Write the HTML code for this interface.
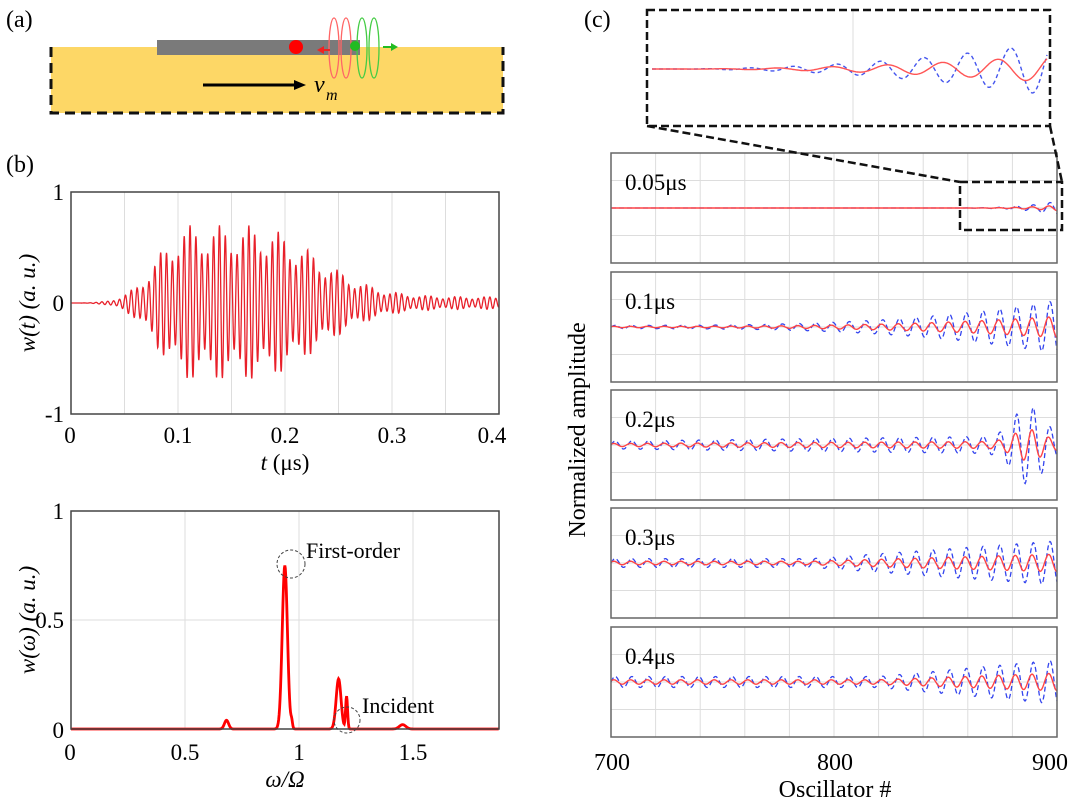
<!DOCTYPE html>
<html><head><meta charset="utf-8"><style>
html,body{margin:0;padding:0;background:#fff;}
svg{display:block;font-family:"Liberation Serif",serif;}
</style></head><body>
<svg id="s" width="1080" height="801" viewBox="0 0 1080 801" xmlns="http://www.w3.org/2000/svg">
<!-- (a) -->
<text x="6" y="27" font-size="24">(a)</text>
<rect x="51" y="47" width="452" height="66" fill="#fdd766"/>
<path d="M51 47 V113 H503 V47" fill="none" stroke="#111" stroke-width="3" stroke-dasharray="10,6"/>
<rect x="157" y="40" width="203" height="15" fill="#7a7a7a"/>
<circle cx="296" cy="47" r="7" fill="#f00"/>
<g fill="none" stroke-width="1.3">
<ellipse cx="334" cy="48" rx="5" ry="30" stroke="#f66"/><ellipse cx="346" cy="48" rx="5" ry="30" stroke="#f66"/>
<ellipse cx="362" cy="48" rx="5" ry="30" stroke="#4c4"/><ellipse cx="374" cy="48" rx="5" ry="30" stroke="#4c4"/>
</g>
<circle cx="355" cy="46" r="5" fill="#2b2"/>
<line x1="330" y1="50" x2="323" y2="50" stroke="#e22" stroke-width="2"/><path d="M317 50 L324 46 L324 54Z" fill="#e22"/>
<line x1="383" y1="47" x2="392" y2="47" stroke="#2b2" stroke-width="2"/><path d="M398 47 L391 43 L391 51Z" fill="#2b2"/>
<line x1="203" y1="85" x2="296" y2="85" stroke="#000" stroke-width="3"/><path d="M306 85 L294 80 L294 90Z" fill="#000"/>
<text x="314" y="92" font-size="24" font-style="italic">v</text><text x="326" y="100" font-size="16" font-style="italic">m</text>

<!-- (b) -->
<text x="6" y="172" font-size="24">(b)</text>
<g stroke="#ddd" stroke-width="1">
<line x1="124.5" y1="192" x2="124.5" y2="414"/><line x1="178" y1="192" x2="178" y2="414"/><line x1="231.5" y1="192" x2="231.5" y2="414"/><line x1="285" y1="192" x2="285" y2="414"/><line x1="338.5" y1="192" x2="338.5" y2="414"/><line x1="392" y1="192" x2="392" y2="414"/><line x1="445.5" y1="192" x2="445.5" y2="414"/>
</g>
<path id="wt" fill="none" stroke="#e8202a" stroke-width="1.3"/>
<rect x="71" y="192" width="428" height="222" fill="none" stroke="#444" stroke-width="1.5"/>
<g font-size="23" text-anchor="end"><text x="64" y="200">1</text><text x="64" y="311">0</text><text x="64" y="422">-1</text></g>
<g font-size="23" text-anchor="middle"><text x="70" y="443">0</text><text x="178" y="443">0.1</text><text x="285" y="443">0.2</text><text x="392" y="443">0.3</text><text x="492" y="443">0.4</text></g>
<text x="285" y="470" font-size="23" text-anchor="middle"><tspan font-style="italic">t</tspan> (μs)</text>
<text transform="translate(35,303) rotate(-90)" font-size="23" text-anchor="middle" font-style="italic">w(t) (a. u.)</text>

<g stroke="#ddd" stroke-width="1">
<line x1="185" y1="511" x2="185" y2="729"/><line x1="299" y1="511" x2="299" y2="729"/><line x1="413" y1="511" x2="413" y2="729"/><line x1="71" y1="620" x2="499" y2="620"/>
</g>
<path id="ww" fill="none" stroke="#f00" stroke-width="2.8"/>
<rect x="71" y="511" width="428" height="218" fill="none" stroke="#444" stroke-width="1.5"/>
<circle cx="291" cy="564" r="14" fill="none" stroke="#444" stroke-dasharray="3,2"/>
<circle cx="347" cy="720" r="13" fill="none" stroke="#444" stroke-dasharray="3,2"/>
<text x="306" y="558" font-size="22">First-order</text>
<text x="362" y="713" font-size="22">Incident</text>
<g font-size="23" text-anchor="end"><text x="64" y="519">1</text><text x="64" y="628">0.5</text><text x="64" y="738">0</text></g>
<g font-size="23" text-anchor="middle"><text x="70" y="760">0</text><text x="185" y="760">0.5</text><text x="299" y="760">1</text><text x="413" y="760">1.5</text></g>
<text x="285" y="787" font-size="23" text-anchor="middle" font-style="italic">ω/Ω</text>
<text transform="translate(35,620) rotate(-90)" font-size="23" text-anchor="middle" font-style="italic">w(ω) (a. u.)</text>

<!-- (c) -->
<text x="584" y="27" font-size="24">(c)</text>
<g id="rp"></g>
<g font-size="24" text-anchor="middle"><text x="612" y="770">700</text><text x="835" y="770">800</text><text x="1050" y="770">900</text></g>
<text x="835" y="797" font-size="24" text-anchor="middle">Oscillator #</text>
<text transform="translate(585,430) rotate(-90)" font-size="24" text-anchor="middle">Normalized amplitude</text>
</svg>
<script>
const S=document.getElementById('s');const NS='http://www.w3.org/2000/svg';
function el(t,a,p){const e=document.createElementNS(NS,t);for(const k in a)e.setAttribute(k,a[k]);(p||S).appendChild(e);return e;}
// w(t)
(function(){let d='';const N=1600;for(let i=0;i<=N;i++){const t=0.4*i/N;
let env;
if(t<0.11)env=Math.exp(-Math.pow((t-0.11)/0.04,2));
else if(t<0.17)env=1;
else env=0.08+0.92*Math.exp(-Math.pow((t-0.17)/0.08,2));
if(t<0.02)env*=t/0.02;
const mod=0.8+0.2*Math.cos(2*Math.PI*36*t);
const v=0.7*env*mod*Math.sin(2*Math.PI*182*t);
const x=71+428*t/0.4,y=303-111*v;d+=(i?'L':'M')+x.toFixed(2)+' '+y.toFixed(2);}
document.getElementById('wt').setAttribute('d',d);})();
// w(omega)
(function(){let d='';const pk=[[0.935,0.75,0.016],[0.68,0.04,0.013],[1.17,0.23,0.015],[1.205,0.15,0.006],[1.45,0.02,0.02],[0.965,0.03,0.005]];
for(let i=0;i<=900;i++){const w=1.87*i/900;let v=0;for(const p of pk)v+=p[1]*Math.exp(-Math.pow((w-p[0])/p[2],2));
const x=71+228.7*w,y=729-218*v;d+=(i?'L':'M')+x.toFixed(2)+' '+y.toFixed(2);}document.getElementById('ww').setAttribute('d',d);})();
// right panels
const rp=document.getElementById('rp');
const panels=[[153,'0.05μs',0],[272,'0.1μs',1],[390,'0.2μs',2],[508,'0.3μs',3],[627,'0.4μs',4]];
const X0=611,X1=1057,H=110;
function series(k,blue,xs,xe,yc,sc){let d='';const N=700;for(let i=0;i<=N;i++){const o=700+200*i/N;let a;
if(k==0){a=o<850?0:Math.pow((o-850)/50,3)*0.12;}
else if(k==1){a=0.03+Math.pow((o-700)/200,3)*0.45;}
else if(k==2){a=0.07+0.1*(o-700)/200+(o>870?0.55*Math.exp(-Math.pow((o-887)/9,2)):0);}
else if(k==3){a=0.08+0.32*Math.max(0,(o-790)/110);}
else {a=0.1+0.3*Math.max(0,(o-820)/80);}
let v;if(blue){v=a*Math.sin(2*Math.PI*(o-700)/7.5);}else{v=0.4*a*Math.sin(2*Math.PI*(o-700)/7.5+0.5);}
const x=xs+(xe-xs)*i/N,y=yc-sc*v;d+=(i?'L':'M')+x.toFixed(2)+' '+y.toFixed(2);}return d;}
panels.forEach(p=>{const y0=p[0];const g=el('g',{},rp);
for(let j=1;j<10;j++){const x=X0+(X1-X0)*j/10;el('line',{x1:x,y1:y0,x2:x,y2:y0+H,stroke:'#ddd'},g);}
for(let j=1;j<4;j++){const y=y0+H*j/4;el('line',{x1:X0,y1:y,x2:X1,y2:y,stroke:'#ddd'},g);}
el('path',{d:series(p[2],true,X0,X1,y0+H/2,55),fill:'none',stroke:'#3344ee','stroke-width':1.3,'stroke-dasharray':'5,3'},g);
el('path',{d:series(p[2],false,X0,X1,y0+H/2,55),fill:'none',stroke:'#f44','stroke-width':1.4},g);
el('rect',{x:X0,y:y0,width:X1-X0,height:H,fill:'none',stroke:'#666','stroke-width':1.5},g);
const t=el('text',{x:625,y:y0+37,'font-size':23},g);t.textContent=p[1];});
// inset
const ig=el('g',{},rp);
el('line',{x1:853,y1:10,x2:853,y2:126,stroke:'#ddd'},ig);
function inset(blue){let d='';const N=500;for(let i=0;i<=N;i++){const f=i/N;const o=850+50*f;let a=Math.pow(f,2.2)*(blue?26:13);
let v=a*Math.sin(2*Math.PI*(o-850)/(blue?5.5:7));
const x=652+(1047-652)*f;d+=(i?'L':'M')+x.toFixed(1)+' '+(69-v).toFixed(1);}return d;}
el('path',{d:inset(true),fill:'none',stroke:'#4455ee','stroke-width':1.4,'stroke-dasharray':'4,3'},ig);
el('path',{d:inset(false),fill:'none',stroke:'#f55','stroke-width':1.4},ig);
el('rect',{x:647,y:10,width:403,height:116,fill:'none',stroke:'#111','stroke-width':2.5,'stroke-dasharray':'8,4'},ig);
el('rect',{x:960,y:182,width:102,height:48,fill:'none',stroke:'#111','stroke-width':2.5,'stroke-dasharray':'8,4'},ig);
el('line',{x1:647,y1:126,x2:960,y2:182,stroke:'#111','stroke-width':2.5,'stroke-dasharray':'8,4'},ig);
el('line',{x1:1050,y1:126,x2:1062,y2:182,stroke:'#111','stroke-width':2.5,'stroke-dasharray':'8,4'},ig);
</script>
</body></html>
